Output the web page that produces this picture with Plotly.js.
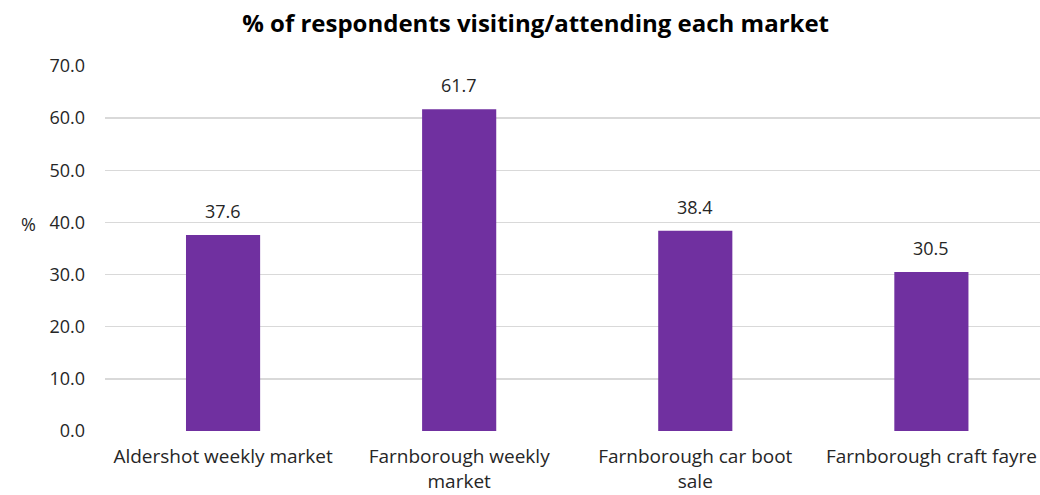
<!DOCTYPE html>
<html>
<head>
<meta charset="utf-8">
<script src="https://cdn.plot.ly/plotly-3.0.1.min.js"></script>
<style>html,body{margin:0;padding:0;overflow:hidden;background:#fff}</style>
</head>
<body>
<div id="chart" style="width:1040px;height:495px"></div>
<script>
const categories = ["Aldershot weekly market", "Farnborough weekly<br>market", "Farnborough car boot<br>sale", "Farnborough craft fayre"];
const values = [37.6, 61.7, 38.4, 30.5];
const labels = ["37.6", "61.7", "38.4", "30.5"];
const yTicks = [0, 10, 20, 30, 40, 50, 60, 70];
const yTickText = ["0.0", "10.0", "20.0", "30.0", "40.0", "50.0", "60.0", "70.0"];

const font = "Open Sans, Noto Sans, sans-serif";
const textColor = "#262626";
const xs = categories.map((c, i) => i);
Plotly.newPlot("chart", [{
  type: "bar",
  x: xs,
  y: values,
  marker: {color: "#7030a0"},
  hoverinfo: "none"
}], {
  width: 1040, height: 495,
  margin: {l: 105, r: 0, t: 66, b: 64},
  paper_bgcolor: "#fff", plot_bgcolor: "#fff",
  bargap: 0.686,
  showlegend: false,
  title: {text: "<b>% of respondents visiting/attending each market</b>", x: 0.515, xanchor: "center", y: 0.953, yanchor: "middle",
          font: {family: font, size: 24, color: "#000"}},
  xaxis: {range: [-0.5, 3.46], tickmode: "array", tickvals: xs, ticktext: categories,
          showgrid: false, zeroline: false, showline: false, ticks: "",
          ticklabelstandoff: 12,
          tickfont: {family: font, size: 19, color: textColor}},
  yaxis: {range: [0, 70], tickmode: "array", tickvals: yTicks, ticktext: yTickText,
          showgrid: true, gridcolor: "#d9d9d9", gridwidth: 1.5, zeroline: false, showline: false,
          ticklabelstandoff: 19, tickfont: {family: font, size: 18, color: textColor}},
  annotations: [{text: "%", xref: "paper", yref: "paper", x: -0.082, y: 0.568, xanchor: "center", yanchor: "middle",
                 showarrow: false, font: {family: font, size: 18, color: textColor}}]
    .concat(values.map((v, i) => ({
      x: xs[i], y: v, xref: "x", yref: "y", text: labels[i], showarrow: false,
      yanchor: "middle", yshift: 24, font: {family: font, size: 18, color: textColor}
    })))
}, {displayModeBar: false, staticPlot: true});
</script>
</body>
</html>
